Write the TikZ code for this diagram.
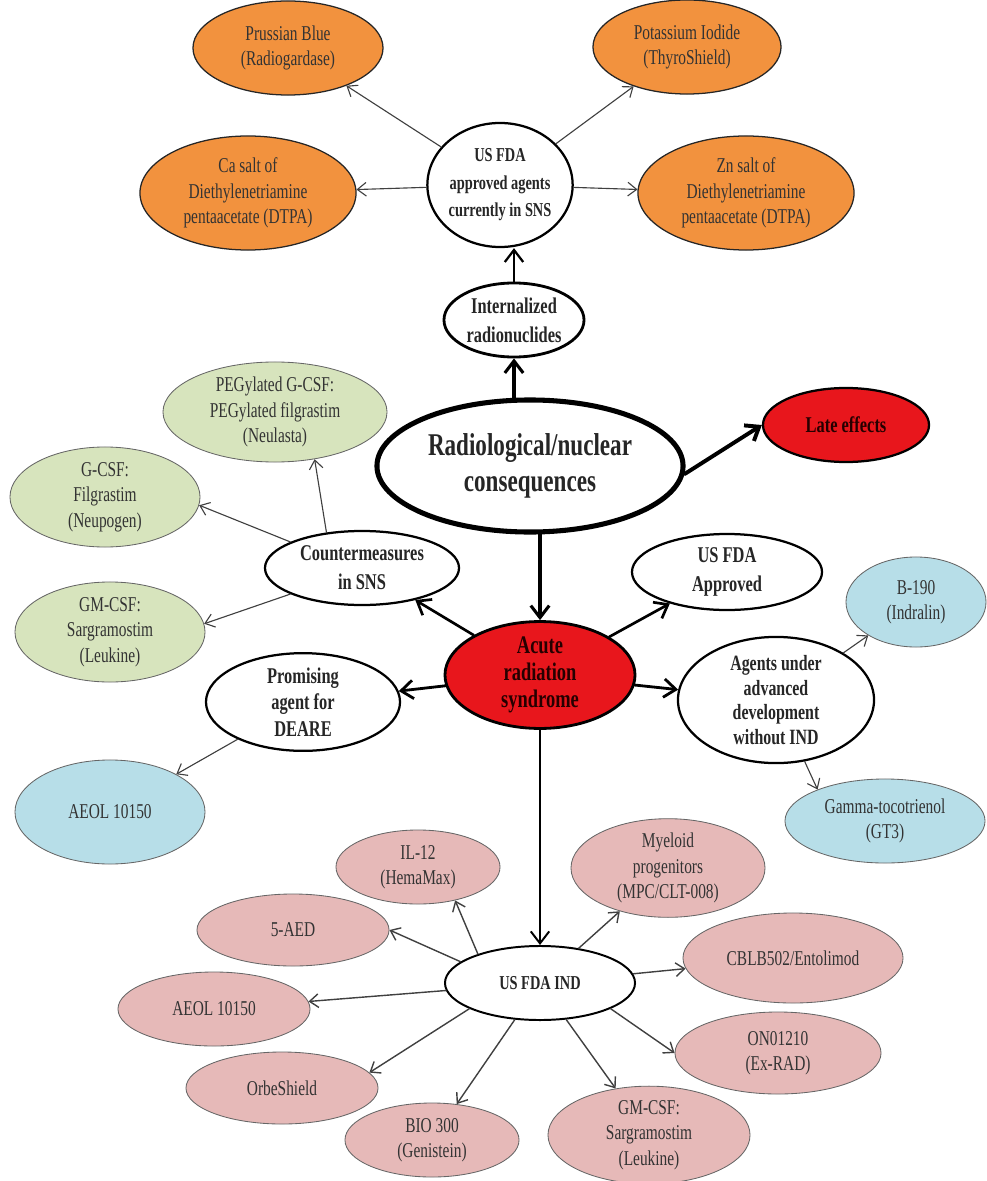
\documentclass[tikz,border=0pt]{standalone}
\usepackage{fontspec}
\setmainfont{Liberation Serif}[FakeStretch=0.73]
\usetikzlibrary{arrows.meta,shapes.geometric}
\definecolor{radorange}{HTML}{F2923E}
\definecolor{radgreen}{HTML}{D7E4BD}
\definecolor{radblue}{HTML}{B7DEE8}
\definecolor{radpink}{HTML}{E6B9B8}
\definecolor{radred}{HTML}{E8161C}
\tikzset{
  esize/.style 2 args={minimum width=#1*0.05cm, minimum height=#2*0.05cm},
  leaf/.style={ellipse, draw=black!60, line width=0.6pt, align=center,
    inner sep=0pt, text=black!80, font=\fontsize{15}{18}\selectfont},
  orangeleaf/.style={leaf, fill=radorange, draw=black!85, line width=0.9pt},
  greenleaf/.style={leaf, fill=radgreen},
  blueleaf/.style={leaf, fill=radblue},
  pinkleaf/.style={leaf, fill=radpink},
  hub/.style={ellipse, draw=black, line width=1.6pt, fill=white, align=center,
    inner sep=0pt, text=black!85, font=\bfseries\fontsize{16}{20.5}\selectfont},
  redhub/.style={hub, fill=radred, text=black!85!red},
  thinarr/.style={draw=black!75, line width=0.8pt,
    -{Straight Barb[length=2.2mm,width=3.4mm]}},
  boldarr/.style={draw=black, line width=1.9pt,
    -{Straight Barb[length=3mm,width=4.6mm]}},
}
\begin{document}
\begin{tikzpicture}[x=0.025cm, y=-0.025cm, line cap=round, line join=round]
  \path[use as bounding box] (0,0) rectangle (986,1181);
  % internal contamination branch
  \node[orangeleaf, esize={95}{47}] (prussian) at (288,48) {Prussian Blue\\(Radiogardase)};
  \node[orangeleaf, esize={94}{47}] (potassium) at (687,47) {Potassium Iodide\\(ThyroShield)};
  \node[orangeleaf, esize={108}{57}] (casalt) at (248,193)
    {Ca salt of\\Diethylenetriamine\\pentaacetate (DTPA)};
  \node[orangeleaf, esize={108}{57}] (znsalt) at (746,193)
    {Zn salt of\\Diethylenetriamine\\pentaacetate (DTPA)};
  \node[hub, esize={62}{62}, font=\bfseries\fontsize{14}{19.5}\selectfont] (sns) at (500,185)
    {US FDA\\approved agents\\currently in SNS};
  \node[hub, esize={70}{37}, line width=2pt] (internal) at (514,320) {Internalized\\radionuclides};
  \node[hub, esize={153}{66}, line width=3.6pt, font=\bfseries\fontsize{22.5}{25.5}\selectfont]
    (radnuc) at (530,466) {Radiological/nuclear\\consequences};
  \node[redhub, esize={83}{37}] (late) at (846,425) {Late effects};
  % acute radiation syndrome
  \node[redhub, esize={95}{47}, line width=2pt, font=\bfseries\fontsize{18}{19}\selectfont]
    (ars) at (540,675) {Acute\\radiation\\syndrome};
  \node[hub, esize={97}{37}] (sns2) at (362,568) {Countermeasures\\in SNS};
  \node[greenleaf, esize={112}{50}] (pegcsf) at (275,412)
    {PEGylated G-CSF:\\PEGylated filgrastim\\(Neulasta)};
  \node[greenleaf, esize={95}{50}] (gcsf) at (105,497) {G-CSF:\\Filgrastim\\(Neupogen)};
  \node[greenleaf, esize={95}{50}] (gmcsf) at (110,632) {GM-CSF:\\Sargramostim\\(Leukine)};
  \node[hub, esize={95}{38}] (approved) at (727,572) {US FDA\\Approved};
  \node[hub, esize={97}{47}, font=\bfseries\fontsize{16}{19}\selectfont] (deare) at (303,702)
    {Promising\\agent for\\DEARE};
  \node[hub, esize={98}{49}, font=\bfseries\fontsize{15.5}{17.5}\selectfont] (advanced) at (776,700)
    {Agents under\\advanced\\development\\without IND};
  \node[blueleaf, esize={95}{52}] (aeol) at (110,812) {AEOL 10150};
  \node[blueleaf, esize={70}{45}] (b190) at (916,602) {B-190\\(Indralin)};
  \node[blueleaf, esize={100}{42}] (gt3) at (885,821) {Gamma-tocotrienol\\(GT3)};
  % IND agents
  \node[hub, esize={95}{37}, line width=1.4pt, font=\bfseries\fontsize{14}{16}\selectfont]
    (ind) at (540,983) {US FDA IND};
  \node[pinkleaf, esize={82}{37}] (il12) at (418,867) {IL-12\\(HemaMax)};
  \node[pinkleaf, esize={97}{48}] (myeloid) at (668,868) {Myeloid\\progenitors\\(MPC/CLT-008)};
  \node[pinkleaf, esize={96}{36}] (aed) at (293,930) {5-AED};
  \node[pinkleaf, esize={110}{45}] (cblb) at (793,958) {CBLB502/Entolimod};
  \node[pinkleaf, esize={96}{37}] (aeolind) at (214,1009) {AEOL 10150};
  \node[pinkleaf, esize={103}{41}] (exrad) at (778,1053) {ON01210\\(Ex-RAD)};
  \node[pinkleaf, esize={96}{36}] (orbe) at (282,1088) {OrbeShield};
  \node[pinkleaf, esize={87}{37}] (bio) at (432,1140) {BIO 300\\(Genistein)};
  \node[pinkleaf, esize={101}{46}] (gmcsfind) at (649,1135)
    {GM-CSF:\\Sargramostim\\(Leukine)};
  % main arrows
  \draw[boldarr, line width=2.2pt] (radnuc.north -| internal) -- (internal.south);
  \draw[boldarr, line width=1.6pt] (internal.north) -- (internal.north |- sns.south);
  \draw[boldarr, line width=2.8pt] (radnuc.-3) -- (late.west);
  \draw[boldarr, line width=2.2pt] (radnuc.south -| ars) -- (ars.north);
  \draw[boldarr] (ars) -- (sns2);
  \draw[boldarr] (ars) -- (approved);
  \draw[boldarr, line width=2pt] (ars) -- (deare);
  \draw[boldarr, line width=2pt] (ars) -- (advanced);
  \draw[boldarr, line width=1.4pt] (ars) -- (ind);
  % leaf arrows
  \foreach \leaf in {prussian,potassium,casalt,znsalt}
    \draw[thinarr] (sns) -- (\leaf);
  \draw[thinarr] (sns2.135) -- (pegcsf.-50);
  \draw[thinarr] (sns2.160) -- (gcsf.-5);
  \draw[thinarr] (sns2.200) -- (gmcsf.5);
  \draw[thinarr] (deare) -- (aeol);
  \draw[thinarr] (advanced) -- (b190);
  \draw[thinarr] (advanced.-65) -- (gt3.155);
  \draw[thinarr, line width=1pt] (ind.155) -- (il12.-42);
  \draw[thinarr, line width=1pt] (ind.165) -- (aed.east);
  \draw[thinarr, line width=1pt] (ind.200) -- (orbe.10);
  \draw[thinarr, line width=1pt] (ind.-20) -- (exrad.west);
  \foreach \leaf in {myeloid,cblb,aeolind,bio,gmcsfind}
    \draw[thinarr, line width=1pt] (ind) -- (\leaf);
\end{tikzpicture}
\end{document}
